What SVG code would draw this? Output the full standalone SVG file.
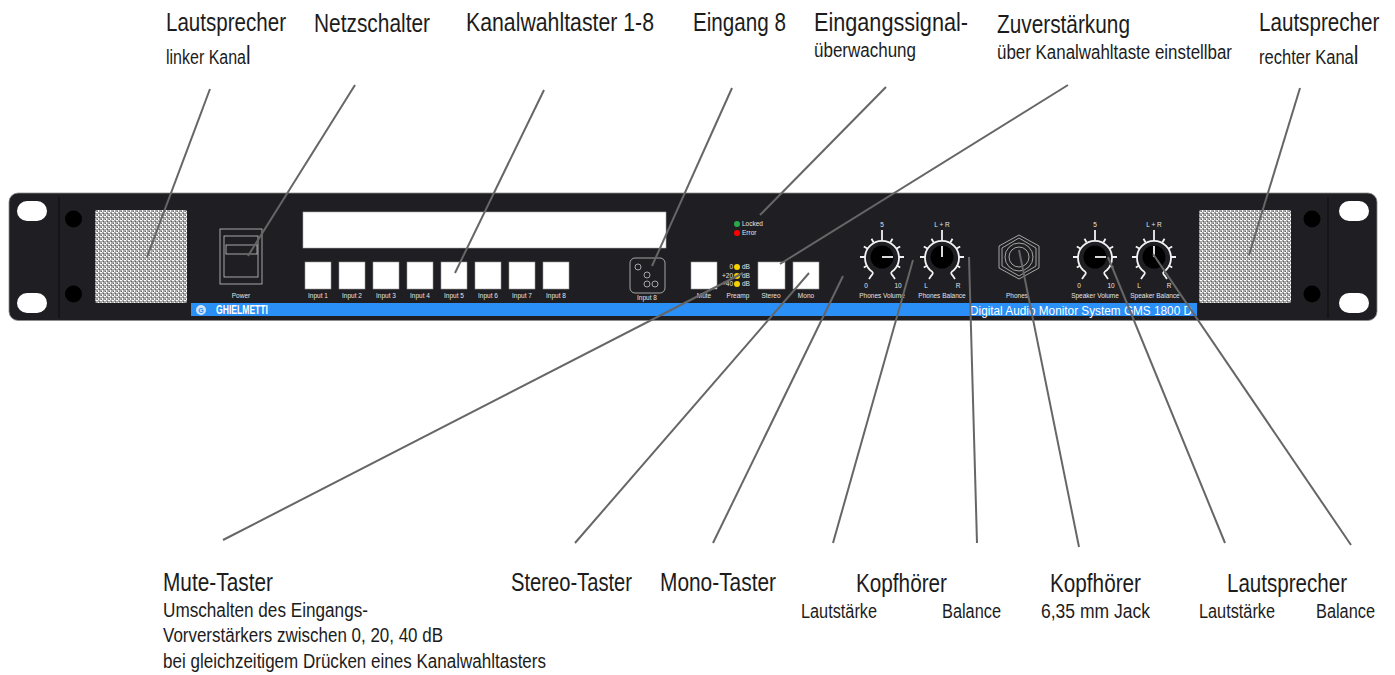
<svg xmlns="http://www.w3.org/2000/svg" width="1395" height="675" viewBox="0 0 1395 675">
<style>
.lbl{font-family:"Liberation Sans",Arial,sans-serif;fill:#1c1c1c}
.big{font-size:25px}
.sub{font-size:19.500px}
.p{font-family:"Liberation Sans",Arial,sans-serif;font-size:6.500px;fill:#e4e4e4;text-anchor:middle}
.pb{font-family:"Liberation Sans",Arial,sans-serif;font-size:7px;fill:#fff;text-anchor:middle}
.btn{fill:#fff;stroke:#999;stroke-width:.6}
.hole{fill:#000}
.slot{fill:#fff}
.ol{fill:none;stroke:#c8c8c8;stroke-width:.8}
.k{fill:none;stroke:#f2f2f2;stroke-width:1.800}
.lead{stroke:#666;stroke-width:2;fill:none}
</style>
<defs>
<pattern id="mesh" width="4" height="4" patternUnits="userSpaceOnUse">
<rect width="4" height="4" fill="#a6a6a6"/>
<rect x="0" y="0" width="2" height="1" fill="#fff"/>
<rect x="2" y="2" width="1" height="2" fill="#fff"/>
<rect x="3" y="1" width="1" height="1" fill="#666"/>
<rect x="1" y="3" width="1" height="1" fill="#666"/>
</pattern>
<g id="dial">
<path class="k" d="M-13 22 L-11 19 C-8 16-9 15-12 13 A17 17 0 1 1 12 13 C9 15 8 16 11 19 L13 22"/>
<path class="k" d="M0-17V-27M8.500-14.700L10.500-18.200M-8.500-14.700L-10.500-18.200M14.700-8.500L18.200-10.500M-14.700-8.500L-18.200-10.500M17 0H22M-17 0H-22M14.700 8.500L18.200 10.500M-14.700 8.500L-18.200 10.500"/>
<circle r="11.500" fill="#000"/>
</g>
</defs>
<rect width="1395" height="675" fill="#fff"/>

<g id="panel">
<rect x="9" y="193" width="1368" height="127.500" rx="9" fill="#1f1e22" stroke="#8a8a8a" stroke-width=".8"/>
<path d="M59 197V318M1328 197V318" stroke="#0c0c0c" stroke-width="1"/>
<rect class="slot" x="17" y="201" width="30" height="20" rx="10"/>
<rect class="slot" x="17" y="293" width="30" height="20" rx="10"/>
<rect class="slot" x="1339" y="201" width="30" height="20" rx="10"/>
<rect class="slot" x="1339" y="293" width="30" height="20" rx="10"/>
<circle class="hole" cx="73.500" cy="219" r="8.500"/>
<circle class="hole" cx="73.500" cy="294" r="8.500"/>
<circle class="hole" cx="1312" cy="219" r="8.500"/>
<circle class="hole" cx="1312" cy="294" r="8.500"/>
<rect x="191" y="303" width="1006" height="13" fill="#2a8ff7"/>
<circle cx="201" cy="310" r="5" fill="#cfe4fb"/>
<text x="201" y="312.500" class="pb" style="fill:#2a8ff7;font-weight:700">G</text>
<text x="216" y="314" class="pb" style="text-anchor:start;font-size:12px;font-weight:700" textLength="52" lengthAdjust="spacingAndGlyphs">GHIELMETTI</text>
<text x="970" y="314.500" class="pb" style="text-anchor:start;font-size:13px" textLength="222" lengthAdjust="spacingAndGlyphs">Digital Audio Monitor System GMS 1800 D</text>
</g>

<g id="speaker-left"><rect x="95" y="210" width="92" height="93" rx="2" fill="url(#mesh)"/></g>
<g id="speaker-right"><rect x="1199" y="210" width="92" height="93" rx="2" fill="url(#mesh)"/></g>

<g id="power">
<rect class="ol" x="220" y="229" width="42" height="55"/>
<rect class="ol" x="224" y="236" width="34" height="41"/>
<rect class="ol" x="226" y="245" width="31" height="9"/>
<text class="p" x="241" y="298">Power</text>
</g>

<g id="display"><rect x="303" y="212" width="363" height="36" fill="#fff" stroke="#aaa" stroke-width=".6"/></g>

<g id="inputs">
<rect class="btn" x="305" y="262" width="26" height="27"/><text class="p" x="318" y="298">Input 1</text>
<rect class="btn" x="339" y="262" width="26" height="27"/><text class="p" x="352" y="298">Input 2</text>
<rect class="btn" x="373" y="262" width="26" height="27"/><text class="p" x="386" y="298">Input 3</text>
<rect class="btn" x="407" y="262" width="26" height="27"/><text class="p" x="420" y="298">Input 4</text>
<rect class="btn" x="441" y="262" width="26" height="27"/><text class="p" x="454" y="298">Input 5</text>
<rect class="btn" x="475" y="262" width="26" height="27"/><text class="p" x="488" y="298">Input 6</text>
<rect class="btn" x="509" y="262" width="26" height="27"/><text class="p" x="522" y="298">Input 7</text>
<rect class="btn" x="543" y="262" width="26" height="27"/><text class="p" x="556" y="298">Input 8</text>
</g>

<g id="input8">
<rect class="ol" x="630" y="258" width="35" height="35" rx="5"/>
<circle class="ol" cx="638" cy="267" r="3"/>
<circle class="ol" cx="647" cy="275" r="3"/>
<circle class="ol" cx="647" cy="284" r="3"/>
<circle class="ol" cx="655" cy="284" r="3"/>
<text class="p" x="647" y="300">Input 8</text>
</g>

<g id="signal-leds">
<circle cx="737" cy="224" r="3" fill="#2aa84a"/>
<circle cx="737" cy="233" r="3" fill="#f00"/>
<text class="p" x="742" y="226" style="text-anchor:start">Locked</text>
<text class="p" x="742" y="235" style="text-anchor:start">Error</text>
</g>

<g id="mute"><rect class="btn" x="691" y="262" width="26" height="27"/><text class="p" x="704" y="298">Mute</text></g>
<g id="preamp">
<circle cx="737" cy="267" r="3" fill="#f7d000"/>
<circle cx="737" cy="276" r="3" fill="#f7d000"/>
<circle cx="737" cy="284" r="3" fill="#f7d000"/>
<text class="p" x="733" y="269" style="text-anchor:end">0</text>
<text class="p" x="733" y="278" style="text-anchor:end">+20</text>
<text class="p" x="733" y="286" style="text-anchor:end">+40</text>
<text class="p" x="742" y="269" style="text-anchor:start">dB</text>
<text class="p" x="742" y="278" style="text-anchor:start">dB</text>
<text class="p" x="742" y="286" style="text-anchor:start">dB</text>
<text class="p" x="738" y="298">Preamp</text>
</g>
<g id="stereo"><rect class="btn" x="758" y="262" width="27" height="27"/><text class="p" x="771" y="298">Stereo</text></g>
<g id="mono"><rect class="btn" x="793" y="262" width="26" height="27"/><text class="p" x="806" y="298">Mono</text></g>

<g id="phones-volume">
<use href="#dial" x="882" y="257"/><path class="k" d="M882 257H893"/>
<text class="p" x="882" y="227">5</text><text class="p" x="866" y="288">0</text><text class="p" x="898" y="288">10</text>
<text class="p" x="882" y="298">Phones Volume</text>
</g>
<g id="phones-balance">
<use href="#dial" x="942" y="257"/><path class="k" d="M942 257V246"/>
<text class="p" x="942" y="227">L + R</text><text class="p" x="926" y="288">L</text><text class="p" x="958" y="288">R</text>
<text class="p" x="942" y="298">Phones Balance</text>
</g>
<g id="jack">
<path class="ol" d="M1019 235L1039 246V268L1019 279L999 268V246Z"/>
<path class="ol" d="M1019 238L1036 248V266L1019 276L1002 266V248Z"/>
<circle class="ol" cx="1019" cy="257" r="14"/>
<circle class="ol" cx="1019" cy="257" r="10"/>
<text class="p" x="1017" y="298">Phones</text>
</g>
<g id="speaker-volume">
<use href="#dial" x="1095" y="257"/><path class="k" d="M1095 257H1106"/>
<text class="p" x="1095" y="227">5</text><text class="p" x="1079" y="288">0</text><text class="p" x="1111" y="288">10</text>
<text class="p" x="1095" y="298">Speaker Volume</text>
</g>
<g id="speaker-balance">
<use href="#dial" x="1154" y="257"/><path class="k" d="M1154 257V246"/>
<text class="p" x="1154" y="227">L + R</text><text class="p" x="1139" y="288">L</text><text class="p" x="1169" y="288">R</text>
<text class="p" x="1155" y="298">Speaker Balance</text>
</g>

<g id="connectors" class="lead">
<path d="M210 89L147 257"/>
<path d="M355 85L248 256"/>
<path d="M544 90L455 273"/>
<path d="M732 88L652 266"/>
<path d="M886 87L760 215"/>
<path d="M1068 85L780 264"/>
<path d="M1300 88L1249 255"/>
<path d="M223 540L743 273"/>
<path d="M575 543L809 273"/>
<path d="M713 543L843 276"/>
<path d="M833 543L913 260"/>
<path d="M977 543L969 257"/>
<path d="M1079 547L1019 250"/>
<path d="M1225 543L1108 257"/>
<path d="M1351 545L1153 254"/>
</g>

<g id="labels-top" class="lbl">
<text class="big" x="166" y="31" textLength="120" lengthAdjust="spacingAndGlyphs">Lautsprecher</text>
<text class="sub" transform="translate(166 64) scale(.82 1)">linker Kana<tspan font-size="25">l</tspan></text>
<text class="big" x="314" y="32" textLength="116" lengthAdjust="spacingAndGlyphs">Netzschalter</text>
<text class="big" x="466" y="31" textLength="188" lengthAdjust="spacingAndGlyphs">Kanalwahltaster 1-8</text>
<text class="big" x="693" y="31" textLength="93" lengthAdjust="spacingAndGlyphs">Eingang 8</text>
<text class="big" x="814" y="31" textLength="154" lengthAdjust="spacingAndGlyphs">Eingangssignal-</text>
<text class="sub" x="814" y="57" textLength="102" lengthAdjust="spacingAndGlyphs">überwachung</text>
<text class="big" x="997" y="33" textLength="133" lengthAdjust="spacingAndGlyphs">Zuverstärkung</text>
<text class="sub" x="997" y="59" textLength="235" lengthAdjust="spacingAndGlyphs">über Kanalwahltaste einstellbar</text>
<text class="big" transform="translate(1259 31) scale(.825 1)">Lautsprecher</text>
<text class="sub" transform="translate(1259 64) scale(.85 1)">rechter Kana<tspan font-size="25">l</tspan></text>
</g>
<g id="labels-bottom" class="lbl">
<text class="big" x="163" y="591" textLength="110" lengthAdjust="spacingAndGlyphs">Mute-Taster</text>
<text class="sub" x="163" y="617" textLength="205" lengthAdjust="spacingAndGlyphs">Umschalten des Eingangs-</text>
<text class="sub" x="163" y="642" textLength="280" lengthAdjust="spacingAndGlyphs">Vorverstärkers zwischen 0, 20, 40 dB</text>
<text class="sub" x="163" y="668" textLength="383" lengthAdjust="spacingAndGlyphs">bei gleichzeitigem Drücken eines Kanalwahltasters</text>
<text class="big" x="511" y="591" textLength="121" lengthAdjust="spacingAndGlyphs">Stereo-Taster</text>
<text class="big" x="660" y="591" textLength="116" lengthAdjust="spacingAndGlyphs">Mono-Taster</text>
<text class="big" x="856" y="592" textLength="91" lengthAdjust="spacingAndGlyphs">Kopfhörer</text>
<text class="sub" x="801" y="618" textLength="76" lengthAdjust="spacingAndGlyphs">Lautstärke</text>
<text class="sub" x="942" y="618" textLength="59" lengthAdjust="spacingAndGlyphs">Balance</text>
<text class="big" x="1050" y="592" textLength="91" lengthAdjust="spacingAndGlyphs">Kopfhörer</text>
<text class="sub" x="1041" y="618" textLength="109" lengthAdjust="spacingAndGlyphs">6,35 mm Jack</text>
<text class="big" x="1227" y="592" textLength="120" lengthAdjust="spacingAndGlyphs">Lautsprecher</text>
<text class="sub" x="1199" y="618" textLength="76" lengthAdjust="spacingAndGlyphs">Lautstärke</text>
<text class="sub" x="1316" y="618" textLength="59" lengthAdjust="spacingAndGlyphs">Balance</text>
</g>
</svg>
